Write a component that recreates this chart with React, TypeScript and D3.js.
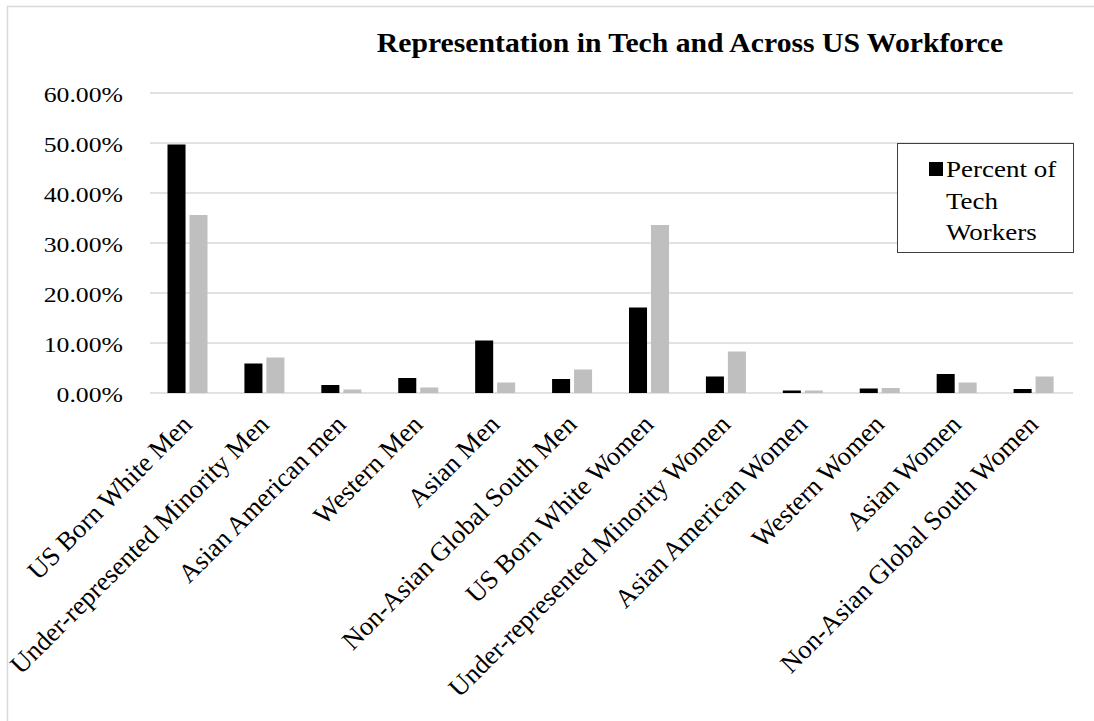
import React from "react";
import * as d3 from "d3";

const categories = [
  "US Born White Men",
  "Under-represented Minority Men",
  "Asian American men",
  "Western Men",
  "Asian Men",
  "Non-Asian Global South Men",
  "US Born White Women",
  "Under-represented Minority Women",
  "Asian American Women",
  "Western Women",
  "Asian Women",
  "Non-Asian Global South Women",
];

const seriesNames = ["Percent of Tech Workers", "Percent of US Workforce"];
const techWorkers = [49.7, 5.9, 1.6, 3.0, 10.5, 2.8, 17.1, 3.3, 0.5, 0.9, 3.8, 0.8];
const usWorkforce = [35.6, 7.1, 0.7, 1.1, 2.1, 4.7, 33.6, 8.3, 0.5, 1.0, 2.1, 3.3];
const yTicks = [0, 10, 20, 30, 40, 50, 60];
const colors = ["#000000", "#bfbfbf"];

const title = "Representation in Tech and Across US Workforce";
const legendLines = ["Percent of", "Tech", "Workers"];

const W = 1094;
const H = 721;
const font = "'Liberation Serif', 'Times New Roman', serif";

export default function App() {
  const left = 150;
  const right = 1073;
  const top = 93;
  const bottom = 393;

  const x = d3.scaleBand<string>().domain(categories).range([left, right]).padding(0);
  const x1 = d3
    .scaleBand<string>()
    .domain(seriesNames)
    .range([17.5, 57.5])
    .paddingInner(0.18);
  const y = d3.scaleLinear().domain([0, 60]).range([bottom, top]);

  const values = [techWorkers, usWorkforce];

  return (
    <svg
      width={W}
      height={H}
      style={{ position: "absolute", left: 0, top: 0, background: "#fff" }}
      fontFamily={font}
    >
      {/* chart area border */}
      <rect x={7.5} y={6.5} width={W + 20} height={H + 20} fill="#fff" stroke="#d9d9d9" strokeWidth={1.5} />

      {/* title */}
      <text
        transform={`translate(690,52) scale(1.1,1)`}
        textAnchor="middle"
        fontSize={27}
        fontWeight="bold"
      >
        {title}
      </text>

      {/* grid + y labels */}
      {yTicks.map((t) => (
        <g key={t}>
          <line x1={left} x2={right} y1={y(t)} y2={y(t)} stroke="#d9d9d9" strokeWidth={1.3} />
          <text
            transform={`translate(123,${y(t) + 8.5}) scale(1.17,1)`}
            textAnchor="end"
            fontSize={22}
          >
            {d3.format(".2f")(t) + "%"}
          </text>
        </g>
      ))}

      {/* bars */}
      {categories.map((c, i) => (
        <g key={c} transform={`translate(${x(c)},0)`}>
          {seriesNames.map((s, j) => (
            <rect
              key={s}
              x={x1(s)}
              y={y(values[j][i])}
              width={x1.bandwidth()}
              height={bottom - y(values[j][i])}
              fill={colors[j]}
            />
          ))}
        </g>
      ))}

      {/* x labels */}
      {categories.map((c) => (
        <text
          key={c}
          transform={`translate(${(x(c) ?? 0) + x.bandwidth() / 2 + 5},426) rotate(-45)`}
          textAnchor="end"
          fontSize={26.5}
        >
          {c}
        </text>
      ))}

      {/* legend */}
      <rect x={897.5} y={143.5} width={176} height={109} fill="#fff" stroke="#404040" strokeWidth={1} />
      <rect x={929} y={162} width={14} height={14} fill={colors[0]} />
      {legendLines.map((l, i) => (
        <text
          key={l}
          transform={`translate(946,${177 + i * 31.5}) scale(1.2,1)`}
          fontSize={22.5}
        >
          {l}
        </text>
      ))}
    </svg>
  );
}
